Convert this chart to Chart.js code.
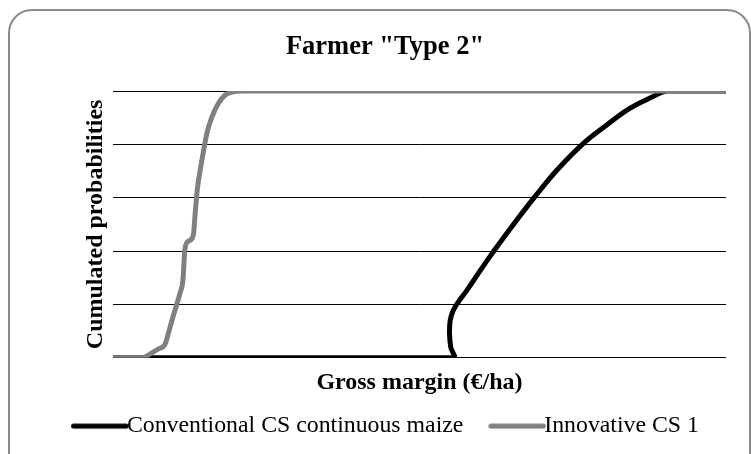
<!DOCTYPE html>
<html>
<head>
    <title>Farmer "Type 2"</title>
    <script src="https://cdn.jsdelivr.net/npm/chart.js"></script>
    <style>
        body { margin: 0; background: #fff; }
        #wrap { position: relative; width: 751px; height: 454px; overflow: hidden; background: #fff; }
        #frame { position: absolute; left: 8px; top: 9px; width: 739px; height: 470px;
                 border: 2px solid #8a8a8a; border-radius: 24px; }
        #chart { position: absolute; left: 0; top: 0; }
    </style>
</head>
<body>
    <div id="wrap">
        <div id="frame"></div>
        <canvas id="chart" width="751" height="454"></canvas>
    </div>

    <script>
        // Gross margin (€/ha, arbitrary axis units) vs cumulated probability
        var seriesNames = ['Conventional CS continuous maize', 'Innovative CS 1'];

        var conventionalX = [0, 555, 551, 549, 550, 555, 563, 577, 599, 620, 648, 688, 724, 767, 805, 843, 881, 903, 1000];
        var conventionalY = [0, 0, 0.039, 0.089, 0.139, 0.177, 0.208, 0.252, 0.327, 0.396, 0.484, 0.603, 0.703, 0.803, 0.872, 0.935, 0.979, 1, 1];

        var innovativeX = [0, 49, 60, 74, 85, 90, 96, 104, 109, 114, 117.5, 123, 131, 134, 137.5, 142, 147, 153, 161, 172, 183, 196, 213, 1000];
        var innovativeY = [0, 0, 0.014, 0.033, 0.051, 0.089, 0.139, 0.2, 0.24, 0.29, 0.41, 0.437, 0.459, 0.54, 0.63, 0.70, 0.766, 0.84, 0.90, 0.954, 0.985, 0.997, 1, 1];

        var probTicks = [0, 0.2, 0.4, 0.6, 0.8, 1];

        var serif = "'Liberation Serif', 'Times New Roman', serif";

        function toPoints(xs, ys) {
            return xs.map(function (x, i) { return { x: x, y: ys[i] }; });
        }

        // legend sample: a thick line that runs right up to the label text
        function legendLine(color) {
            var c = document.createElement('canvas');
            c.width = 74;
            c.height = 8;
            var g = c.getContext('2d');
            g.strokeStyle = color;
            g.lineWidth = 5;
            g.lineCap = 'round';
            g.beginPath();
            g.moveTo(17.5, 4);
            g.lineTo(70, 4);
            g.stroke();
            return c;
        }

        Chart.defaults.color = '#000';
        Chart.defaults.font.family = serif;

        var ctx = document.getElementById('chart').getContext('2d');
        var chart = new Chart(ctx, {
            type: 'scatter',
            data: {
                datasets: [{
                    label: seriesNames[0],
                    data: toPoints(conventionalX, conventionalY),
                    showLine: true,
                    borderColor: '#000000',
                    backgroundColor: '#000000',
                    borderWidth: 5,
                    tension: 0.4,
                    borderJoinStyle: 'round',
                    pointRadius: 0,
                    pointStyle: legendLine('#000000'),
                    order: 1
                }, {
                    label: seriesNames[1],
                    data: toPoints(innovativeX, innovativeY),
                    showLine: true,
                    borderColor: '#808080',
                    backgroundColor: '#808080',
                    borderWidth: 5,
                    cubicInterpolationMode: 'monotone',
                    borderJoinStyle: 'round',
                    pointRadius: 0,
                    pointStyle: legendLine('#808080'),
                    order: 0
                }]
            },
            options: {
                responsive: false,
                animation: false,
                layout: { padding: { left: 44, right: 25, top: 0, bottom: 6 } },
                plugins: {
                    title: {
                        display: true,
                        text: 'Farmer "Type 2"',
                        font: { size: 26.5, weight: 'bold', family: serif },
                        padding: { top: 31, bottom: 28.2 }
                    },
                    legend: {
                        position: 'bottom',
                        labels: {
                            usePointStyle: true,
                            pointStyleWidth: 44,
                            padding: 25,
                            font: { size: 23.8, family: serif },
                            sort: function (a, b) { return a.datasetIndex - b.datasetIndex; }
                        }
                    },
                    tooltip: { enabled: false }
                },
                scales: {
                    x: {
                        type: 'linear',
                        min: 0,
                        max: 1000,
                        grid: { display: false, drawTicks: false },
                        border: { display: false },
                        ticks: { display: false },
                        title: {
                            display: true,
                            text: 'Gross margin (€/ha)',
                            font: { size: 24, weight: 'bold', family: serif },
                            padding: { top: 10.6, bottom: -8 }
                        }
                    },
                    y: {
                        min: 0,
                        max: 1,
                        afterBuildTicks: function (axis) {
                            axis.ticks = probTicks.map(function (v) { return { value: v }; });
                        },
                        grid: { color: '#000', lineWidth: 1, drawTicks: false },
                        border: { display: false },
                        ticks: { display: false },
                        title: {
                            display: true,
                            text: 'Cumulated probabilities',
                            font: { size: 24, weight: 'bold', family: serif },
                            padding: { top: 37.6, bottom: 2.6 }
                        }
                    }
                }
            }
        });
    </script>
</body>
</html>
